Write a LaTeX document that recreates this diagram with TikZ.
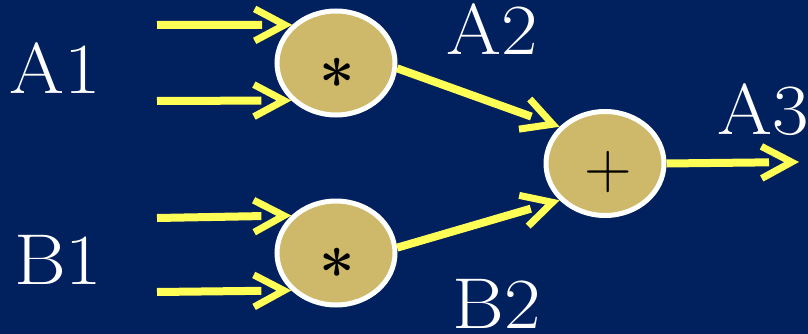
\documentclass[tikz,border=0pt]{standalone}
\usepackage{fontspec}
\newfontfamily\lblfont[FakeStretch=1.1]{Latin Modern Roman}
\usetikzlibrary{arrows.meta,shapes.geometric}
\definecolor{bgc}{RGB}{0,32,94}
\definecolor{tanc}{RGB}{205,185,105}
\definecolor{yelc}{RGB}{255,255,85}
\tikzset{
  opnode/.style={ellipse, draw=white, line width=5pt, fill=tanc,
    minimum width=118pt, minimum height=104pt, inner sep=0pt},
  lbl/.style={text=white, font=\lblfont\fontsize{72}{72}\selectfont, inner sep=0pt, anchor=base west},
  sym/.style={text=black, inner sep=0pt},
  conn/.style={draw=bgc, line width=0.1pt,
    -{Straight Barb[color=yelc, line width=7pt, length=30pt, width=32pt]},
    postaction={draw=yelc, line width=8pt, shorten >=30pt, -}},
}
\begin{document}
\begin{tikzpicture}[x=1pt,y=-1pt]
\path[fill=bgc,use as bounding box] (0,0) rectangle (808,334);
\node[opnode] (m1) at (336,63) {};
\node[opnode] (m2) at (336,253) {};
\node[opnode] (p) at (605,163.5) {};
\node[sym, font=\fontsize{63}{63}\selectfont\bfseries] (s1) at (337,82) {*};
\node[sym, font=\fontsize{63}{63}\selectfont\bfseries] (s2) at (337,272) {*};
\node[sym, font=\fontsize{66}{66}\selectfont] (pl) at (608,172) {+};
\coordinate (a1u) at (157,25);
\coordinate (a1l) at (157,101);
\coordinate (b1u) at (157,218);
\coordinate (b1l) at (157,292);
\coordinate (out) at (799,162);
\draw[conn] (a1u) -- (m1.139);
\draw[conn] (a1l) -- (m1.220);
\draw[conn] (b1u) -- (m2.140);
\draw[conn] (b1l) -- (m2.220);
\draw[conn] (m1.355) -- (p.141);
\draw[conn] (m2.5) -- (p.219);
\draw[conn] (p.east) -- (out);
\node[lbl] (A1) at (9,94) {A1};
\node[lbl] (B1) at (14,284) {B1};
\node[lbl] (A2) at (446,55) {A2};
\node[lbl] (B2) at (452,328) {B2};
\node[lbl] (A3) at (717,135) {A3};
\end{tikzpicture}
\end{document}
